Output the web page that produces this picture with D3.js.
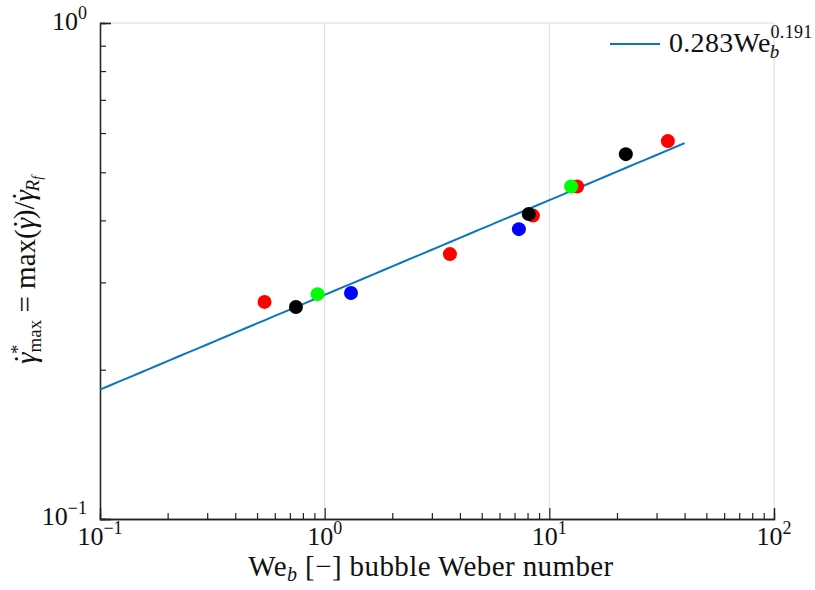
<!DOCTYPE html>
<html><head><meta charset="utf-8">
<script src="https://cdn.jsdelivr.net/npm/d3@7/dist/d3.min.js"></script>
<style>body{margin:0;background:#fff}svg{display:block}text{font-family:"Liberation Serif","DejaVu Serif",serif;fill:#111}</style>
</head><body><svg id="c" width="815" height="590"></svg>
<script>
// data
const redWe   = [0.54, 3.61, 8.45, 13.3, 33.7];
const redG    = [0.274, 0.342, 0.409, 0.468, 0.578];
const blueWe  = [1.31, 7.32];
const blueG   = [0.2855, 0.384];
const greenWe = [0.93, 12.5];
const greenG  = [0.284, 0.468];
const blackWe = [0.745, 8.1, 21.9];
const blackG  = [0.2675, 0.412, 0.544];
const fitCoef = 0.283, fitExp = 0.191;
const fitRange = [0.1, 40];
const xMajor = [0.1, 1, 10, 100], xMajorExp = ["−1","0","1","2"];
const yMajor = [0.1, 1], yMajorExp = ["−1","0"];

const svg = d3.select("#c");
const L=100, R=774, T=23, B=519;
const x = d3.scaleLog().domain([0.1,100]).range([L,R]);
const y = d3.scaleLog().domain([0.1,1]).range([B,T]);
const lineColor = "#0a76bf";

// grid
const g = svg.append("g");
g.selectAll("line.gx").data(xMajor.slice(1)).join("line")
  .attr("x1",d=>x(d)).attr("x2",d=>x(d)).attr("y1",T).attr("y2",B)
  .attr("stroke","#dcdcdc").attr("stroke-width",1);
g.selectAll("line.gy").data(yMajor.slice(1)).join("line")
  .attr("x1",L).attr("x2",R).attr("y1",d=>y(d)).attr("y2",d=>y(d))
  .attr("stroke","#dcdcdc").attr("stroke-width",1);

// minor ticks
const xMinor = [], yMinor=[];
for (const dec of [0.1,1,10]) for (let k=2;k<=9;k++) xMinor.push(dec*k);
for (let k=2;k<=9;k++) yMinor.push(0.1*k);

const axB = svg.append("g").attr("transform",`translate(0,${B})`)
  .call(d3.axisTop(x).tickValues(xMinor).tickSize(6).tickFormat(""));
const axB2 = svg.append("g").attr("transform",`translate(0,${B})`)
  .call(d3.axisTop(x).tickValues(xMajor).tickSize(11).tickFormat(""));
const axL = svg.append("g").attr("transform",`translate(${L},0)`)
  .call(d3.axisRight(y).tickValues(yMinor).tickSize(6).tickFormat(""));
const axL2 = svg.append("g").attr("transform",`translate(${L},0)`)
  .call(d3.axisRight(y).tickValues(yMajor).tickSize(11).tickFormat(""));
[axB,axB2,axL,axL2].forEach(a=>{
  a.selectAll("path.domain").attr("stroke","#222").attr("stroke-width",1.3);
  a.selectAll(".tick line").attr("stroke","#222").attr("stroke-width",1.2);
});

// tick labels
function pow10(sel, xp, yp, exp, anchor){
  const t = sel.append("text").attr("x",xp).attr("y",yp).attr("font-size",26).attr("text-anchor",anchor);
  t.append("tspan").text("10");
  t.append("tspan").attr("dy",-11).attr("font-size",18).text(exp);
}
xMajor.forEach((d,i)=>pow10(svg, x(d), 545, xMajorExp[i], "middle"));
yMajor.forEach((d,i)=>pow10(svg, 87, y(d)+ (i==0?6:7), yMajorExp[i], "end"));

// fit line
const fx = d3.range(0,61).map(i=>Math.pow(10, Math.log10(fitRange[0]) + i/60*(Math.log10(fitRange[1])-Math.log10(fitRange[0]))));
const line = d3.line().x(d=>x(d)).y(d=>y(fitCoef*Math.pow(d,fitExp)));
svg.append("path").datum(fx).attr("d",line).attr("fill","none")
  .attr("stroke",lineColor).attr("stroke-width",2);

// points
const series = [[redWe,redG,"#ff0000"],[blueWe,blueG,"#0000ff"],[greenWe,greenG,"#00ff00"],[blackWe,blackG,"#000000"]];
series.forEach(([xs,ys,c])=>{
  svg.append("g").selectAll("circle").data(xs.map((v,i)=>[v,ys[i]])).join("circle")
    .attr("cx",d=>x(d[0])).attr("cy",d=>y(d[1])).attr("r",7).attr("fill",c);
});

// legend
svg.append("line").attr("x1",610).attr("x2",660).attr("y1",44).attr("y2",44)
  .attr("stroke",lineColor).attr("stroke-width",2);
const lt = svg.append("text").attr("x",669).attr("y",52).attr("font-size",28).attr("letter-spacing",0.3);
lt.append("tspan").text("0.283We");
lt.append("tspan").attr("font-style","italic").attr("font-size",19).attr("dy",6).attr("dx",-1).text("b");
lt.append("tspan").attr("font-size",18).attr("dy",-20).attr("dx",-9).text("0.191");

// x label
const xl = svg.append("text").attr("x",431).attr("y",576).attr("text-anchor","middle").attr("font-size",29).attr("letter-spacing",0.4);
xl.append("tspan").text("We");
xl.append("tspan").attr("font-style","italic").attr("font-size",20).attr("dy",5).text("b");
xl.append("tspan").attr("dy",-5).text(" [−] bubble Weber number");

// y label
const yl = svg.append("text").attr("transform","translate(36,270) rotate(-90)").attr("text-anchor","middle").attr("font-size",29);
function gdot(t){
  t.append("tspan").attr("font-style","italic").text("γ");
  t.append("tspan").attr("dx",-11).attr("dy",-1).text("˙");
  t.append("tspan").attr("dy",1).attr("dx",-1).text("");
}
gdot(yl);
yl.append("tspan").attr("font-size",19).attr("dy",-11).text("*");
yl.append("tspan").attr("font-size",19).attr("dy",17).attr("dx",-8).text("max");
yl.append("tspan").attr("dy",-6).text(" = max(");
gdot(yl);
yl.append("tspan").text(")/");
gdot(yl);
yl.append("tspan").attr("font-style","italic").attr("font-size",19).attr("dy",6).text("R");
yl.append("tspan").attr("font-style","italic").attr("font-size",14).attr("dy",3).text("f");
</script></body></html>
